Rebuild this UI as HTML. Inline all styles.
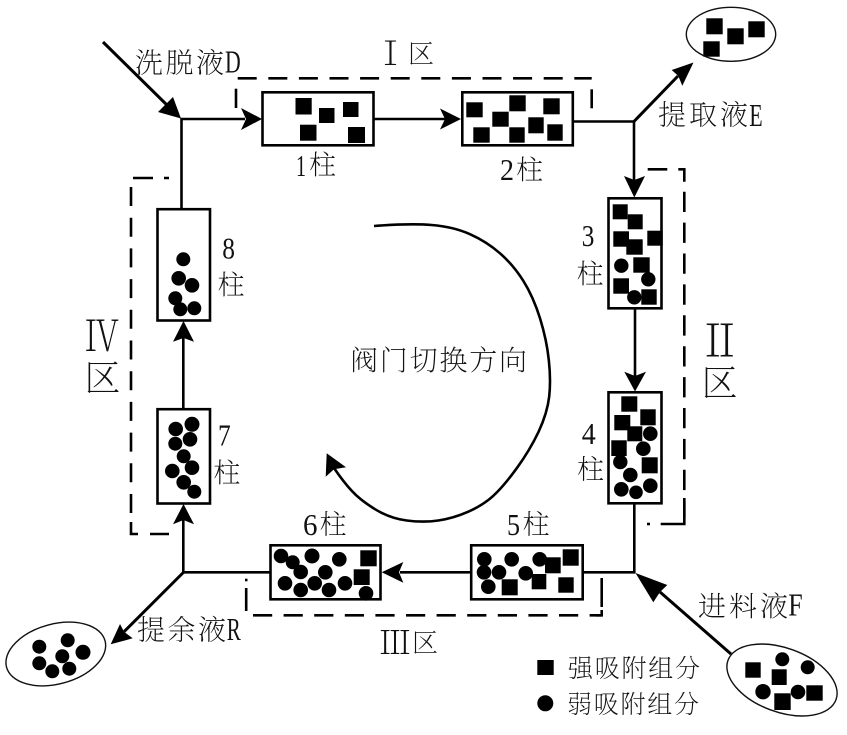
<!DOCTYPE html>
<html><head><meta charset="utf-8"><style>
html,body{margin:0;padding:0;background:#fff;width:847px;height:735px;overflow:hidden}
svg{display:block}
text{font-family:"Liberation Serif","Noto Serif CJK SC",serif;fill:#111;font-size:27px;font-weight:200}
.c{font-family:"Noto Serif CJK SC",serif}
.s rect{fill:#000}
</style></head><body>
<svg width="847" height="735" viewBox="0 0 847 735" xmlns="http://www.w3.org/2000/svg">
<!-- lines -->
<g fill="none" stroke="#000" stroke-width="2.6">
<path d="M181.5,209 V119 H245"/>
<path d="M103,42 L172,110" stroke-width="3"/>
<path d="M374,119 H445"/>
<path d="M573,121.5 H634 V180"/>
<path d="M634,121.5 L678,76" stroke-width="3"/>
<path d="M635,308 V376"/>
<path d="M634.3,504 V572.3 H583"/>
<path d="M660,592 L731,654" stroke-width="3"/>
<path d="M471,572.3 H400"/>
<path d="M270,572.3 H183.3 V520"/>
<path d="M183.3,572.5 L124,631.7" stroke-width="3"/>
<path d="M183.3,409 V338"/>
<path d="M374,226 Q410,223.3 431.6,225 Q453.3,226.7 470,234.2 Q486.7,241.7 500,253.3 Q513.3,265 523.3,280.8 Q533.3,296.7 540,318.3 Q546.7,340 548.8,360 Q551,380 549.2,396.5 Q547.3,413 538.7,431.5 Q530,450 516.7,468.3 Q503.3,486.7 493.3,495.8 Q483.3,505 468.3,511.7 Q453.3,518.3 438.3,520.5 Q423.3,522.7 406.7,520.5 Q390,518.3 375,509.2 Q360,500 351.7,490.8 Q343.3,481.7 334,468" stroke-width="2.6"/>
</g>
<!-- arrowheads -->
<g fill="#000">
<polygon points="181,118.5 173,97 166,104 158,112"/>
<polygon points="262,119 241,108 246,119 241,130"/>
<polygon points="461,119 440,108.5 445,119 440,129.5"/>
<polygon points="693.5,62.5 671.7,70 678.3,76 682.3,85.7"/>
<polygon points="634.3,197.5 624,176 634.3,180 645,176"/>
<polygon points="635,391.5 624.3,371.7 635,376 646,371.7"/>
<polygon points="635.5,573 667.3,585 660,592 653.3,602.3"/>
<polygon points="381.7,572.3 403.3,562 399,572.3 403.3,582.7"/>
<polygon points="110.7,644.3 120,624 124,631.7 132.7,638.3"/>
<polygon points="183.5,504 173,524.3 183.5,520 194,524.3"/>
<polygon points="183.5,321 173,341.7 183.5,338 194,341.7"/>
<polygon points="326.7,453.3 346,467.3 334,469.3 325.7,476.7"/>
</g>
<!-- dashed zones -->
<g fill="none" stroke="#000" stroke-width="2.6">
<path d="M237.7,78.3 H591.7" stroke-dasharray="19 11.6"/>
<path d="M236,88.7 V108"/>
<path d="M591.7,89.3 V108.3"/>
<path d="M647.7,169.3 H667.3 M678.3,169.3 H684.3 V181.7"/>
<path d="M684.3,191.7 V518" stroke-dasharray="20.3 10.6"/>
<path d="M684.3,498 V524 H660.7"/>
<path d="M647,524 H650"/>
<path d="M253,615.3 H601.7" stroke-dasharray="19.2 11.4"/>
<path d="M596,615.3 H601.7 V610"/>
<path d="M601.7,578 V607"/>
<path d="M246.2,588 V611"/>
<path d="M245,580 H247.5"/>
<path d="M133,178 H153 M164,178 H169"/>
<path d="M131,187 V522" stroke-dasharray="19 11.7"/>
<path d="M131,522 V534 H138 M150,534 H169"/>
</g>
<!-- columns -->
<g fill="#fff" stroke="#000" stroke-width="2.6">
<rect x="262.5" y="92.3" width="111" height="53"/>
<rect x="462.3" y="92.3" width="110.5" height="53"/>
<rect x="608.5" y="198.3" width="53" height="110"/>
<rect x="608.5" y="392.3" width="53" height="111"/>
<rect x="471.2" y="545.3" width="111.5" height="54"/>
<rect x="270.5" y="545.3" width="110" height="54"/>
<rect x="157.5" y="409.2" width="52.5" height="94.3"/>
<rect x="157.5" y="209.2" width="52.5" height="111.3"/>
</g>
<!-- strong squares -->
<g class="s">
<rect x="295.5" y="98" width="16.2" height="16.5"/><rect x="319" y="108" width="15.5" height="15"/><rect x="343" y="102" width="15.5" height="15"/><rect x="300" y="124.7" width="16.5" height="16"/><rect x="348" y="127" width="17" height="16"/>
<rect x="466.3" y="102.3" width="16.4" height="15"/><rect x="492.3" y="111.7" width="16.4" height="15"/><rect x="509.3" y="95.3" width="16.4" height="16"/><rect x="543.3" y="98.3" width="16.4" height="16"/><rect x="528.3" y="117.3" width="15.4" height="16"/><rect x="473.3" y="127.3" width="16.4" height="15.4"/><rect x="509.3" y="127.3" width="15.4" height="15.4"/><rect x="547.3" y="124.3" width="15.4" height="16.4"/>
<rect x="612.7" y="204.3" width="15" height="15"/><rect x="627.7" y="214.3" width="15" height="15"/><rect x="613.3" y="231.3" width="15.7" height="15.4"/><rect x="647.3" y="230.7" width="15.4" height="15"/><rect x="626.3" y="239.3" width="16.4" height="15.4"/><rect x="633.3" y="257.3" width="16.4" height="15.4"/><rect x="613.3" y="278.3" width="15.7" height="15.4"/><rect x="641.3" y="289.3" width="15.4" height="15.4"/>
<rect x="621.3" y="396.3" width="16" height="15.4"/><rect x="640.3" y="409.3" width="15.4" height="16"/><rect x="614.3" y="415" width="16" height="15.3"/><rect x="627.3" y="426.3" width="15" height="15"/><rect x="611.3" y="440.3" width="15.4" height="15.7"/><rect x="641.7" y="457.3" width="16" height="16"/>
<rect x="501.7" y="579.3" width="16" height="16"/><rect x="531.7" y="574" width="14.6" height="15.3"/><rect x="545" y="557.3" width="15.7" height="16"/><rect x="562.7" y="549.3" width="16" height="16.4"/><rect x="558.3" y="577.3" width="15.4" height="15.4"/>
<rect x="360.3" y="550.3" width="16.4" height="16"/><rect x="353.7" y="569.3" width="16" height="15.7"/>
<rect x="706.3" y="18.3" width="16.4" height="16"/><rect x="727.3" y="28.3" width="16.4" height="16"/><rect x="748.3" y="21.3" width="16.4" height="16"/><rect x="703.3" y="41.3" width="16.4" height="15.4"/>
<rect x="745.3" y="662.3" width="15.4" height="15.4"/><rect x="771.7" y="669.3" width="15" height="15.7"/><rect x="806.3" y="685.3" width="16.4" height="15.4"/><rect x="774.3" y="693.3" width="16.4" height="16.7"/>
<rect x="537.3" y="660" width="16.4" height="15"/>
</g>
<!-- weak circles -->
<g fill="#000">
<circle cx="621.3" cy="265.7" r="7.2"/><circle cx="648.3" cy="279.3" r="7.2"/><circle cx="634.3" cy="297.3" r="7.2"/>
<circle cx="650.3" cy="433.7" r="7.3"/><circle cx="643.3" cy="448.7" r="7.3"/><circle cx="620.3" cy="462" r="7.2"/><circle cx="630.3" cy="475" r="7.3"/><circle cx="621.3" cy="489.3" r="7.3"/><circle cx="636" cy="492.3" r="6.8"/><circle cx="650.3" cy="485.7" r="7.3"/>
<circle cx="484.3" cy="559.3" r="7.3"/><circle cx="484" cy="572.3" r="7.3"/><circle cx="499" cy="572.3" r="7.3"/><circle cx="511.7" cy="559.3" r="7.3"/><circle cx="488.3" cy="586.7" r="7.3"/><circle cx="525.7" cy="573.3" r="7.3"/><circle cx="539.7" cy="559.3" r="7.3"/>
<circle cx="281" cy="556" r="7.3"/><circle cx="292.7" cy="562.3" r="7"/><circle cx="300.7" cy="572" r="7.3"/><circle cx="312" cy="556" r="7.5"/><circle cx="339.3" cy="559.3" r="7.3"/><circle cx="325.3" cy="572.3" r="7.3"/><circle cx="285" cy="583.3" r="7.3"/><circle cx="300.7" cy="590" r="7.3"/><circle cx="314.7" cy="583.3" r="7.3"/><circle cx="329" cy="590" r="7.3"/><circle cx="345" cy="583.3" r="7.3"/><circle cx="366" cy="593.3" r="7.3"/>
<circle cx="175.7" cy="429" r="7.3"/><circle cx="192" cy="424.3" r="7.5"/><circle cx="175.3" cy="443.7" r="7"/><circle cx="190" cy="439.3" r="7.3"/><circle cx="183.7" cy="456.3" r="7"/><circle cx="192" cy="467.7" r="7.3"/><circle cx="172.3" cy="471" r="7.3"/><circle cx="183.7" cy="482.3" r="7.3"/><circle cx="194.3" cy="491.7" r="7"/>
<circle cx="183.3" cy="259.3" r="7"/><circle cx="178.7" cy="278.3" r="7.3"/><circle cx="192" cy="285.3" r="7.3"/><circle cx="175.3" cy="298.3" r="7"/><circle cx="180.3" cy="309.3" r="7"/><circle cx="194.3" cy="308.3" r="7"/>
<circle cx="39.3" cy="646.7" r="7"/><circle cx="67.7" cy="640.3" r="7"/><circle cx="83" cy="652.3" r="7.5"/><circle cx="62.3" cy="656.3" r="7"/><circle cx="39.3" cy="663.3" r="7"/><circle cx="52.3" cy="671.3" r="7"/><circle cx="69.3" cy="668.7" r="7"/>
<circle cx="782.3" cy="659.3" r="7"/><circle cx="807.7" cy="667.3" r="7"/><circle cx="763" cy="691.7" r="7.7"/><circle cx="798" cy="692" r="7.3"/>
<circle cx="545.3" cy="703.3" r="8"/>
</g>
<!-- ellipses -->
<g fill="none" stroke="#111" stroke-width="1.4">
<ellipse cx="731" cy="34.3" rx="44.7" ry="27"/>
<ellipse cx="55.8" cy="654" rx="51" ry="30" transform="rotate(-15 55.8 654)"/>
<ellipse cx="782" cy="680" rx="57.5" ry="32" transform="rotate(20 782 680)"/>
</g>
<!-- labels -->
<text x="135" y="72.5" textLength="89" style="font-size:28px">洗脱液</text>
<text x="225" y="72.5" textLength="15.7" lengthAdjust="spacingAndGlyphs" style="font-size:32px">D</text>
<text x="658" y="124.5" textLength="90" style="font-size:28px">提取液</text>
<text x="749.3" y="126" textLength="13.4" lengthAdjust="spacingAndGlyphs" style="font-size:32px">E</text>
<text x="698" y="616" textLength="90" style="font-size:28px">进料液</text>
<text x="788.3" y="615.5" textLength="14.4" lengthAdjust="spacingAndGlyphs" style="font-size:32px">F</text>
<text x="137" y="639.5" textLength="89" style="font-size:28px">提余液</text>
<text x="226.7" y="640" textLength="14" lengthAdjust="spacingAndGlyphs" style="font-size:32px">R</text>
<text x="296" y="176" textLength="10" lengthAdjust="spacingAndGlyphs" style="font-size:31px">1</text><text x="309" y="174.5">柱</text>
<text x="500" y="180" textLength="14" lengthAdjust="spacingAndGlyphs" style="font-size:31px">2</text><text x="516" y="179.5">柱</text>
<text x="303" y="535" textLength="14.5" lengthAdjust="spacingAndGlyphs" style="font-size:31px">6</text><text x="319.5" y="534">柱</text>
<text x="507" y="535" textLength="13" lengthAdjust="spacingAndGlyphs" style="font-size:31px">5</text><text x="522.5" y="534">柱</text>
<text x="581.7" y="246" textLength="12.6" lengthAdjust="spacingAndGlyphs" style="font-size:31px">3</text><text x="576.5" y="283.5">柱</text>
<text x="581.7" y="444" textLength="14" lengthAdjust="spacingAndGlyphs" style="font-size:31px">4</text><text x="577" y="479">柱</text>
<text x="222.3" y="258.3" textLength="12.7" lengthAdjust="spacingAndGlyphs" style="font-size:31px">8</text><text x="217.5" y="294.5">柱</text>
<text x="218" y="445.7" textLength="12.7" lengthAdjust="spacingAndGlyphs" style="font-size:31px">7</text><text x="213.3" y="482.5">柱</text>
<text x="350" y="370" textLength="177" style="font-size:28px">阀门切换方向</text>
<text x="568" y="677" textLength="132" style="font-size:25px">强吸附组分</text>
<text x="567" y="713" textLength="132" style="font-size:25px">弱吸附组分</text>
<text class="c" x="374" y="65" style="font-size:33px">Ⅰ</text>
<text x="408" y="63" style="font-size:26px">区</text>
<text class="c" x="697.7" y="356.5" style="font-size:44px">Ⅱ</text>
<text x="701.6" y="395.5" style="font-size:36px">区</text>
<text class="c" x="379" y="654" style="font-size:32px">Ⅲ</text>
<text x="412" y="652" style="font-size:26px">区</text>
<text class="c" x="85" y="351" textLength="34" lengthAdjust="spacingAndGlyphs" style="font-size:42px">Ⅳ</text>
<text x="84.5" y="390.5" style="font-size:36px">区</text>
</svg>
</body></html>
